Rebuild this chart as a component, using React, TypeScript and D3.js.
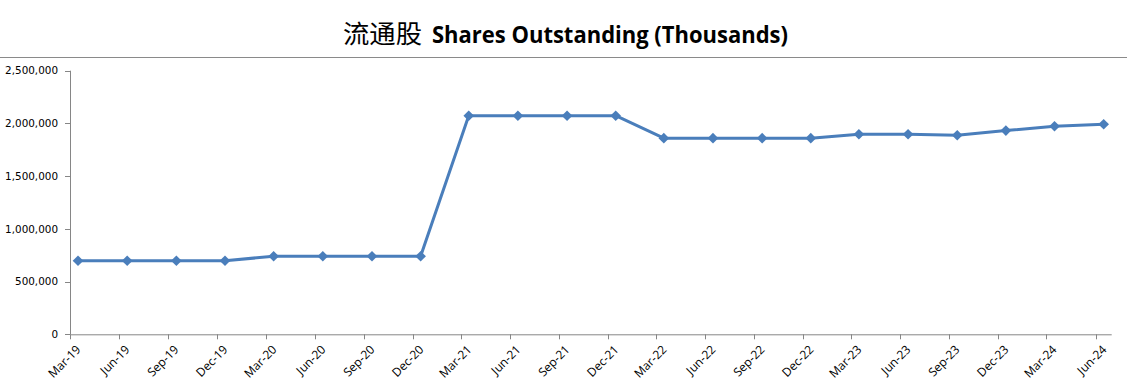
import React from "react";
import * as d3 from "d3";

const quarters: string[] = [
  "2019-03", "2019-06", "2019-09", "2019-12",
  "2020-03", "2020-06", "2020-09", "2020-12",
  "2021-03", "2021-06", "2021-09", "2021-12",
  "2022-03", "2022-06", "2022-09", "2022-12",
  "2023-03", "2023-06", "2023-09", "2023-12",
  "2024-03", "2024-06",
];
const sharesOutstanding: number[] = [
  698000, 698000, 698000, 698000,
  740000, 740000, 740000, 740000,
  2073000, 2073000, 2073000, 2073000,
  1860000, 1860000, 1860000, 1860000,
  1897000, 1897000, 1888000, 1932000,
  1973000, 1992000,
];
const yTicks: number[] = [0, 500000, 1000000, 1500000, 2000000, 2500000];
const titleCn = "流通股";
const titleEn = "Shares Outstanding (Thousands)";

const W = 1127;
const H = 389;
const left = 70;
const right = 1111.7;
const top = 70.7;
const bottom = 334.3;

export default function App() {
  const parse = d3.timeParse("%Y-%m");
  const monthStart = quarters.map((q) => parse(q) as Date);
  const pointDates = monthStart.map((d) => new Date(d.getFullYear(), d.getMonth(), 16));
  const x = d3
    .scaleTime()
    .domain([monthStart[0], new Date(2024, 6, 1)])
    .range([left, right]);
  const y = d3.scaleLinear().domain([0, 2500000]).range([bottom, top]);
  const fmt = d3.format(",");
  const labelFmt = d3.timeFormat("%b-%y");
  const line = d3
    .line<number>()
    .x((_, i) => x(pointDates[i]))
    .y((v) => y(v));
  const diamond = d3.symbol().type(d3.symbolDiamond2).size(72)();
  const axisColor = "#868686";

  return (
    <svg
      width={W}
      height={H}
      style={{ position: "absolute", left: 0, top: 0, background: "#fff" }}
    >
      <text
        x={343}
        y={43}
        fontFamily="'Noto Sans CJK SC'"
        fontSize={25}
        textLength={79}
        lengthAdjust="spacingAndGlyphs"
        fill="#000"
      >
        {titleCn}
      </text>
      <text
        x={432}
        y={43}
        fontFamily="'Open Sans'"
        fontWeight={700}
        fontSize={23}
        textLength={356}
        lengthAdjust="spacingAndGlyphs"
        fill="#000"
      >
        {titleEn}
      </text>
      <line x1={0} x2={W} y1={57.5} y2={57.5} stroke="#8a8a8a" strokeWidth={1} />

      {/* y axis */}
      <line x1={left + 0.5} x2={left + 0.5} y1={top} y2={bottom} stroke={axisColor} />
      {yTicks.map((t) => (
        <g key={t}>
          <line
            x1={left - 5}
            x2={left}
            y1={Math.round(y(t)) + 0.5}
            y2={Math.round(y(t)) + 0.5}
            stroke={axisColor}
          />
          <text
            x={left - 12}
            y={y(t)}
            dy="0.35em"
            textAnchor="end"
            fontFamily="'DejaVu Sans'"
            fontSize={10.4}
            fill="#000"
          >
            {fmt(t)}
          </text>
        </g>
      ))}

      {/* x axis */}
      <line x1={left} x2={right} y1={bottom + 0.5} y2={bottom + 0.5} stroke={axisColor} />
      {monthStart.map((d, i) => {
        const tx = Math.round(x(d)) + 0.5;
        return (
          <g key={i}>
            <line x1={tx} x2={tx} y1={bottom} y2={bottom + 5} stroke={axisColor} />
            <text
              transform={`translate(${tx + 8},${bottom + 13}) rotate(-45)`}
              textAnchor="end"
              dy="0.35em"
              fontFamily="'Open Sans'"
              fontSize={12}
              fill="#000"
            >
              {labelFmt(d)}
            </text>
          </g>
        );
      })}

      <path
        d={line(sharesOutstanding) || ""}
        fill="none"
        stroke="#4A7EBB"
        strokeWidth={3}
        strokeLinejoin="round"
      />
      {sharesOutstanding.map((v, i) => (
        <path
          key={i}
          d={diamond || ""}
          transform={`translate(${x(pointDates[i])},${y(v)})`}
          fill="#4A7EBB"
        />
      ))}
    </svg>
  );
}
